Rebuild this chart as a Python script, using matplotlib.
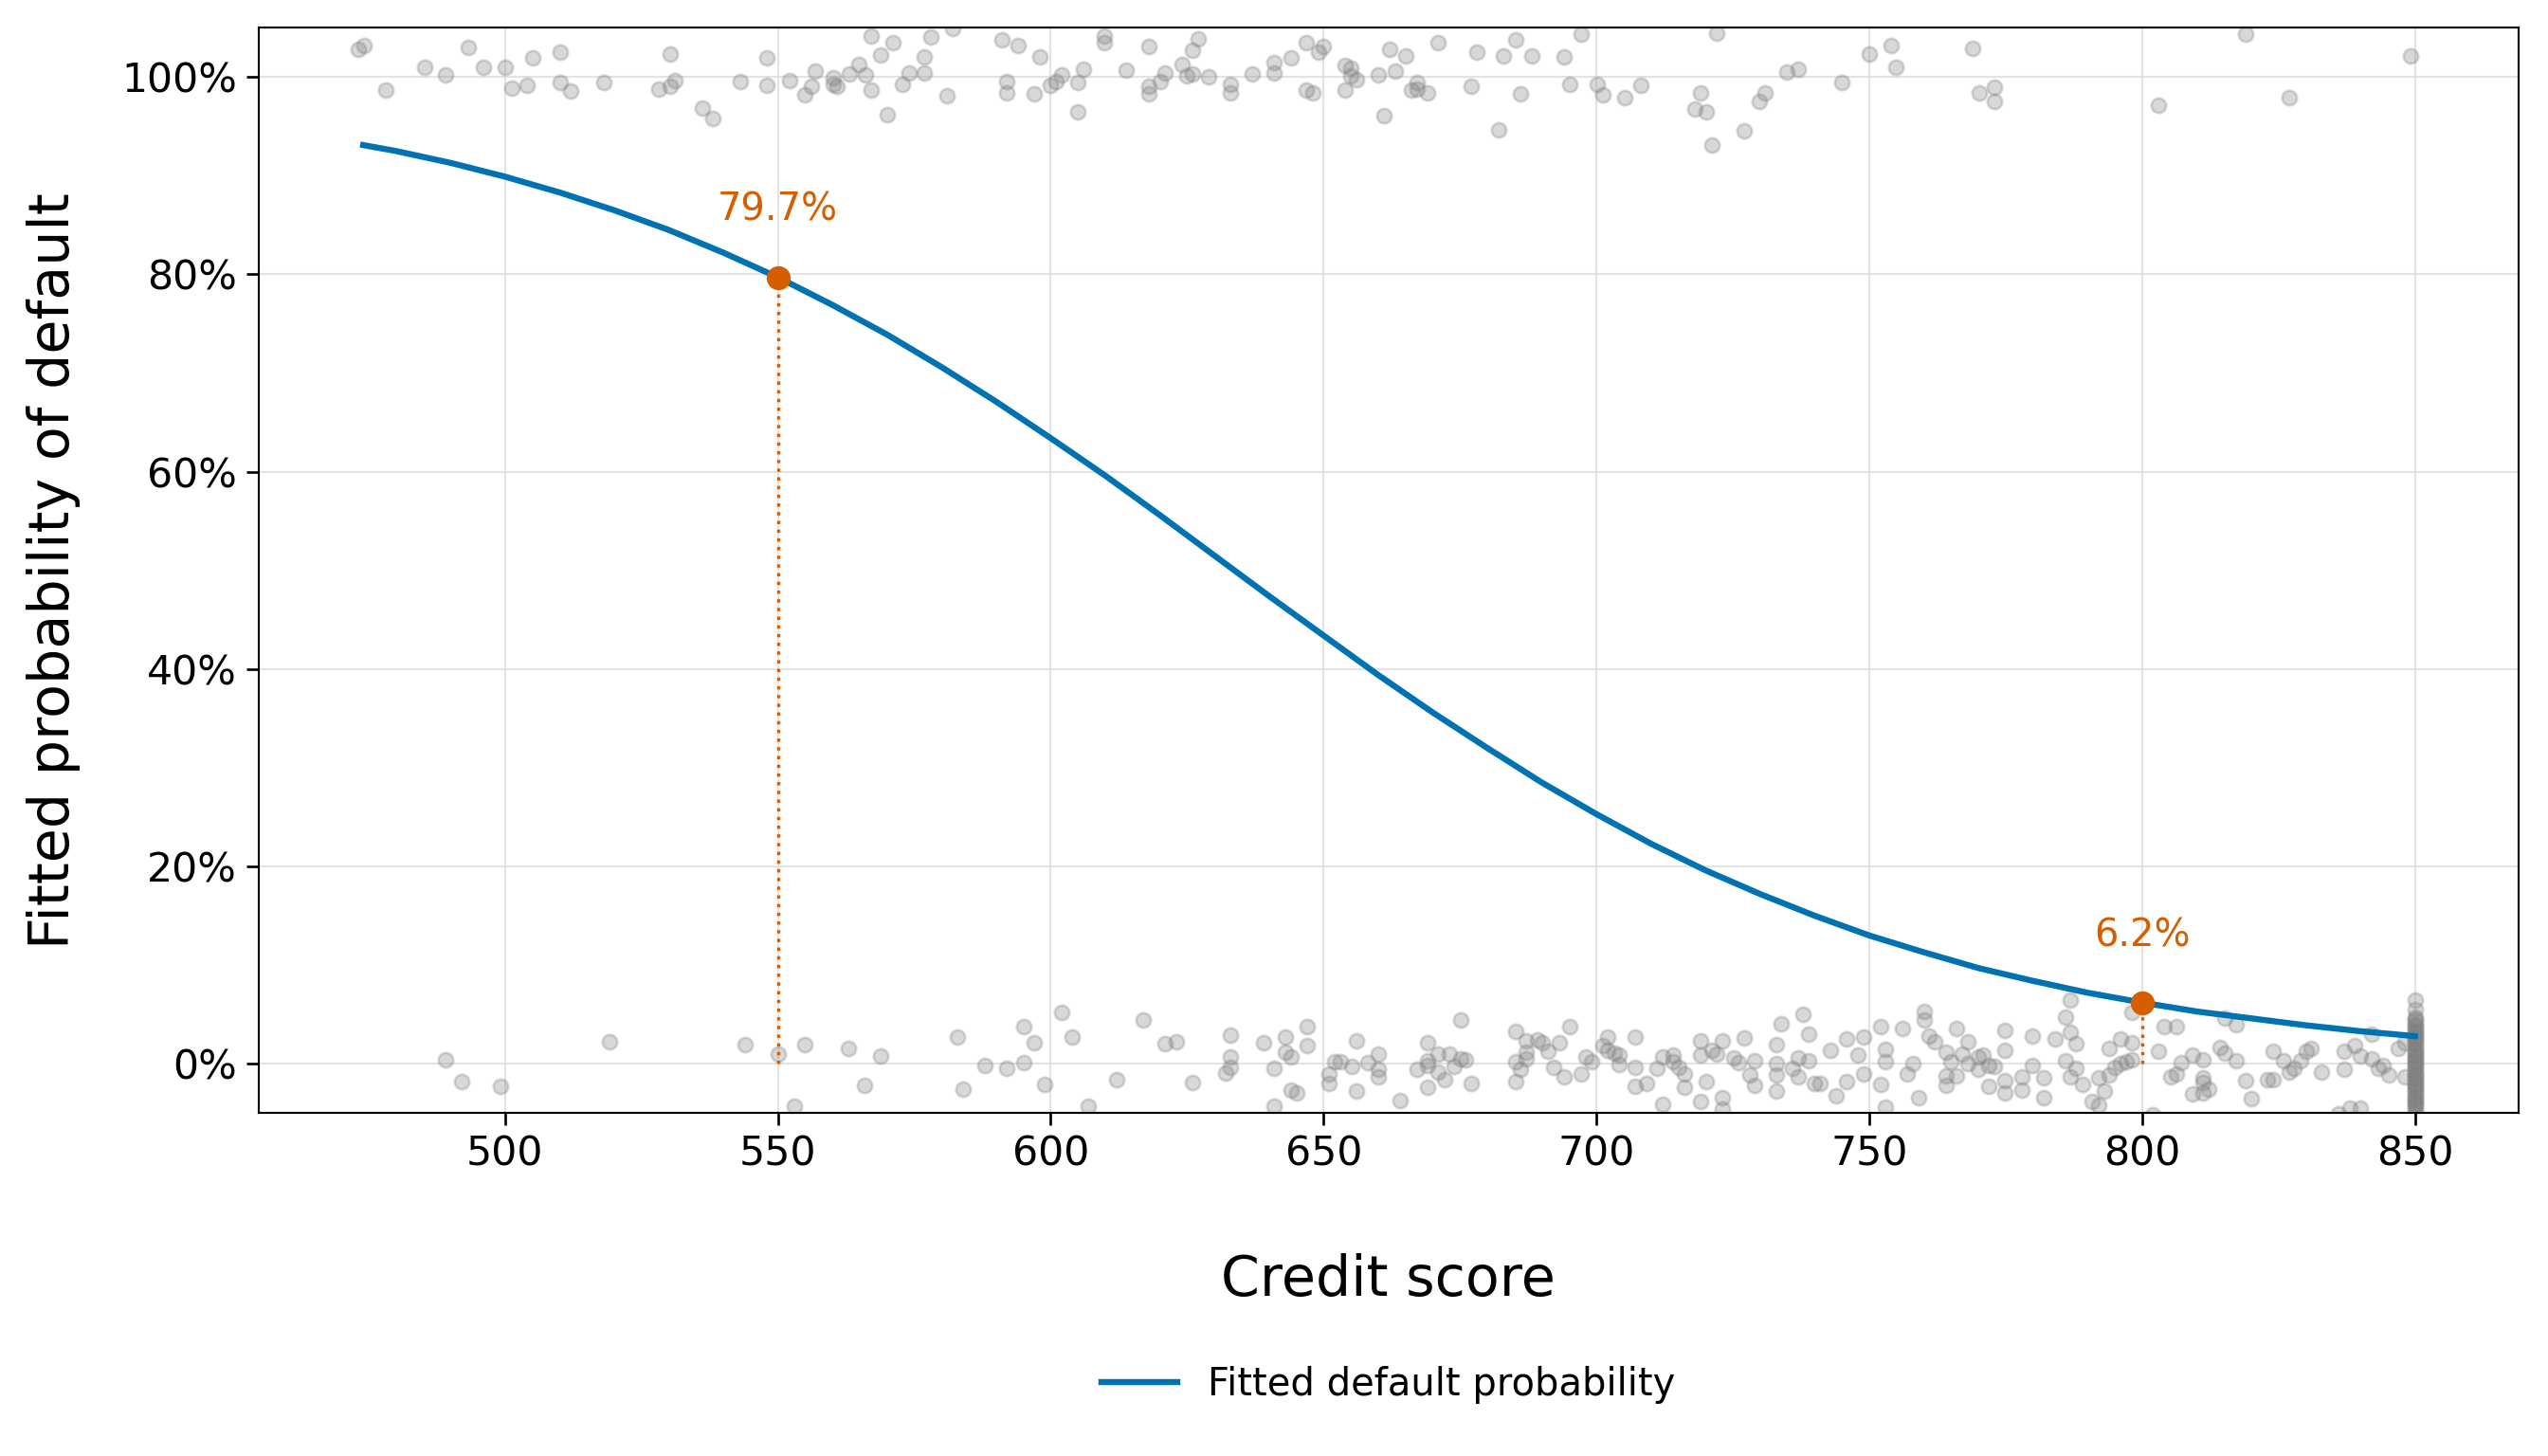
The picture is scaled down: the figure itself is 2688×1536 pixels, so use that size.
import matplotlib
matplotlib.use('Agg')
import matplotlib.pyplot as plt
from matplotlib.ticker import PercentFormatter

# Jittered outcomes: defaulted loans (near 100%)
default_scores = [473.2, 474.2, 478.2, 485.2, 489.1, 493.2, 496.1, 500.1, 501.2, 504.1,
                  505.1, 510.2, 510.2, 512.0, 518.1, 528.1, 530.2, 530.2, 531.2, 536.1,
                  538.1, 543.1, 548.0, 548.0, 552.1, 555.0, 556.1, 556.9, 560.2, 560.2,
                  560.8, 563.1, 564.9, 566.0, 567.1, 567.1, 568.9, 570.0, 571.1, 572.9,
                  574.0, 576.9, 576.9, 578.0, 580.9, 582.0, 591.0, 592.0, 592.0, 594.0,
                  596.9, 598.0, 600.0, 601.0, 602.0, 605.0, 605.0, 606.0, 609.9, 609.9,
                  613.9, 617.9, 617.9, 617.9, 620.0, 621.0, 624.0, 625.0, 626.0, 626.0,
                  627.0, 629.0, 632.9, 632.9, 636.9, 640.9, 640.9, 644.0, 646.9, 646.9,
                  648.0, 649.0, 650.0, 654.0, 654.0, 655.0, 655.0, 656.0, 660.0, 661.1,
                  662.1, 663.1, 665.1, 666.1, 667.1, 667.1, 669.1, 671.0, 677.1, 678.1,
                  682.0, 683.0, 685.2, 686.0, 688.1, 694.0, 695.1, 697.2, 700.2, 701.2,
                  705.2, 708.2, 718.1, 719.1, 720.1, 721.1, 722.1, 727.1, 729.8, 730.9,
                  734.9, 737.0, 745.0, 750.0, 754.0, 754.9, 769.0, 770.1, 773.0, 773.0,
                  803.0, 819.0, 826.9, 849.1]
default_jitter = [102.8, 103.2, 98.7, 101.0, 100.2, 103.0, 101.0, 101.0, 98.9, 99.2,
                  101.9, 102.5, 99.4, 98.6, 99.4, 98.8, 102.3, 99.1, 99.6, 96.9,
                  95.8, 99.5, 101.9, 99.2, 99.6, 98.2, 99.1, 100.6, 99.9, 99.3,
                  99.1, 100.3, 101.3, 100.2, 104.2, 98.7, 102.2, 96.2, 103.5, 99.3,
                  100.4, 102.0, 100.4, 104.1, 98.1, 104.9, 103.8, 99.5, 98.4, 103.2,
                  98.3, 102.0, 99.2, 99.5, 100.2, 99.4, 96.5, 100.8, 104.2, 103.5,
                  100.7, 103.1, 99.1, 98.3, 99.5, 100.4, 101.3, 100.1, 102.7, 100.3,
                  103.9, 100.0, 99.3, 98.4, 100.3, 101.5, 100.4, 101.9, 103.5, 98.7,
                  98.4, 102.5, 103.1, 101.2, 98.7, 100.9, 100.1, 99.7, 100.2, 96.1,
                  102.8, 100.6, 102.1, 98.7, 99.4, 98.8, 98.4, 103.5, 99.1, 102.5,
                  94.6, 102.1, 103.8, 98.3, 102.1, 102.0, 99.3, 104.3, 99.3, 98.2,
                  97.9, 99.2, 96.8, 98.4, 96.5, 93.1, 104.4, 94.5, 97.5, 98.4,
                  100.5, 100.8, 99.4, 102.3, 103.2, 101.0, 102.9, 98.4, 99.0, 97.5,
                  97.1, 104.3, 97.9, 102.1]

# Repaid loans (near 0%)
repaid_scores = [489.1, 492.0, 499.2, 519.1, 543.9, 550.0, 553.0, 555.0, 563.0, 565.9,
                 568.9, 582.9, 584.0, 588.0, 592.0, 595.0, 595.0, 596.9, 598.9, 602.0,
                 604.0, 606.9, 612.0, 616.9, 621.0, 623.0, 626.0, 632.0, 632.9, 632.9,
                 632.9, 639.0, 640.9, 640.9, 643.0, 643.0, 644.0, 644.0, 645.0, 647.0,
                 647.0, 651.0, 651.0, 652.0, 653.0, 655.1, 656.0, 656.0, 658.1, 660.1,
                 660.1, 660.1, 664.1, 667.1, 669.1, 669.1, 669.1, 669.1, 671.0, 671.0,
                 672.1, 673.1, 674.0, 675.1, 675.1, 676.0, 677.1, 685.2, 685.2, 685.2,
                 686.1, 687.1, 687.1, 687.1, 689.2, 690.1, 691.1, 692.2, 693.2, 694.1,
                 695.1, 697.2, 698.0, 699.1, 701.2, 702.0, 702.0, 703.2, 704.1, 704.1,
                 707.1, 707.1, 707.1, 709.1, 711.1, 712.1, 712.1, 714.0, 714.0, 715.1,
                 716.1, 716.1, 719.1, 719.1, 719.1, 720.2, 721.1, 722.1, 723.1, 723.1,
                 723.1, 725.1, 726.1, 727.1, 728.1, 729.0, 729.0,
                 732.9, 732.9, 732.9, 732.9, 733.9, 736.0, 737.0, 737.0, 737.9, 738.9,
                 738.9, 739.9, 740.9, 742.9, 744.0, 745.9, 745.9, 747.9, 748.9, 748.9,
                 752.0, 752.0, 753.0, 753.0, 753.0, 756.0, 757.0, 758.0, 759.0, 760.0,
                 760.0, 761.0, 762.0, 764.0, 764.0, 764.0, 765.0, 766.0, 766.0, 767.0,
                 768.0, 768.0, 770.0, 770.0, 770.9, 771.9, 771.9, 772.9, 774.9, 774.9,
                 774.9, 774.9, 778.0, 778.0, 779.9, 779.9, 782.0, 782.0, 784.0, 785.9,
                 785.9, 786.9, 786.9, 786.9, 787.9, 787.9, 789.0, 790.9, 792.0, 792.0,
                 793.0, 794.0, 794.0, 795.0, 796.0, 796.0, 797.1, 798.1, 798.1, 798.1,
                 802.0, 803.0, 804.1, 805.2, 806.2, 806.2, 807.2, 809.2, 809.2, 811.1,
                 811.1, 811.1, 811.1, 812.1, 814.2, 815.1, 815.1, 817.3, 817.3, 819.0,
                 820.0, 823.0, 824.0, 824.0, 825.9, 826.9, 827.9, 829.0, 830.0, 831.0,
                 832.9, 836.0, 837.0, 837.0, 838.0, 839.0, 840.0, 840.0, 842.1, 842.1,
                 843.2, 844.1, 845.2, 847.0, 848.1, 848.1]
repaid_jitter = [0.4, -1.8, -2.3, 2.2, 1.9, 1.0, -4.3, 1.9, 1.6, -2.2,
                 0.8, 2.7, -2.6, -0.2, -0.5, 3.8, 0.1, 2.1, -2.1, 5.2,
                 2.7, -4.3, -1.6, 4.4, 2.0, 2.2, -1.9, -0.9, 2.9, 0.7,
                 -0.4, 2.1, -0.5, -4.3, 2.7, 1.2, 0.7, -2.7, -3.0, 3.8,
                 1.8, -1.0, -2.0, 0.2, 0.2, -0.3, 2.3, -2.8, 0.1, 1.0,
                 -0.6, -1.3, -3.7, -0.6, 2.1, 0.3, -0.2, -2.4, 1.0, -0.8,
                 -1.6, 1.0, -0.3, 4.4, 0.5, 0.4, -2.0, 3.3, 0.2, -1.8,
                 -0.6, 2.3, 1.2, 0.5, 2.4, 2.1, 1.3, -0.4, 2.1, -1.3,
                 3.8, -1.0, 0.7, 0.2, 1.8, 2.7, 1.4, 1.1, 0.9, -0.1,
                 2.7, -0.4, -2.3, -2.0, -0.5, 0.7, -4.1, 0.9, 0.2, -0.4,
                 -1.0, -2.4, 2.3, 0.9, -3.8, -1.8, 1.4, 1.0, 2.3, -3.4,
                 -4.6, 0.6, 0.1, 2.6, -1.1, 0.3, -2.2,
                 1.9, 0.0, -1.1, -2.8, 4.1, -0.5, 0.6, -1.3, 5.0, 3.0,
                 0.3, -2.0, -2.0, 1.4, -3.2, 2.5, -1.8, 0.9, 2.7, -1.0,
                 3.8, -2.1, 1.5, 0.2, -4.4, 3.6, -1.0, 0.0, -3.4, 5.3,
                 4.4, 2.8, 2.2, 1.2, -1.2, -2.2, 0.2, 3.6, -1.2, 1.0,
                 2.2, 0.0, 0.7, -0.6, 0.9, -0.2, -2.3, -0.3, 3.4, 1.4,
                 -1.7, -3.0, -1.3, -2.7, 2.8, -0.2, -1.4, -3.4, 2.5, 4.7,
                 0.3, 6.5, 3.2, -1.3, 2.0, -0.5, -2.1, -3.8, -1.4, -4.2,
                 -2.8, 1.6, -1.1, -0.4, 2.5, 0.0, 0.2, 5.2, 2.1, 0.4,
                 -5.2, 1.3, 3.8, -1.3, 3.8, -1.0, 0.1, 0.9, -3.1, 0.4,
                 -1.4, -1.9, -3.0, -2.6, 1.7, 4.6, 1.1, 4.0, 0.3, -1.7,
                 -3.5, -1.6, 1.3, -1.6, 0.3, -0.8, -0.5, 0.3, 1.3, 1.6,
                 -0.8, -5.1, 1.3, -0.6, -4.5, 1.8, 0.8, -4.5, 3.0, 0.5,
                 -0.5, -0.2, -1.1, 1.6, -1.3, 2.1]

# Scores capped at 850 (stacked column)
capped_jitter = [6.5, 5.5, 4.7, 4.5, 4.3, 4.0, 3.9, 3.7, 3.4, 3.2, 3.1, 2.8, 2.6, 2.5,
                 2.2, 2.0, 1.9, 1.6, 1.4, 1.3, 1.0, 0.8, 0.7, 0.4, 0.2, 0.1, -0.2,
                 -0.4, -0.5, -0.8, -1.0, -1.1, -1.4, -1.6, -1.7, -2.0, -2.2, -2.3,
                 -2.6, -2.8, -2.9, -3.2, -3.4, -3.5, -3.8, -4.0, -4.1, -4.4, -4.7, -5.0]

# Fitted curve
curve_scores = [474, 480, 490, 500, 510, 520, 530, 540, 550, 560, 570, 580, 590, 600,
                610, 620, 630, 640, 650, 660, 670, 680, 690, 700, 710, 720, 730, 740,
                750, 760, 770, 780, 790, 800, 810, 820, 830, 840, 850]
curve_prob = [0.931, 0.925, 0.913, 0.899, 0.883, 0.865, 0.845, 0.822, 0.797, 0.769,
              0.739, 0.706, 0.671, 0.634, 0.596, 0.556, 0.515, 0.474, 0.434, 0.394,
              0.356, 0.320, 0.285, 0.253, 0.223, 0.196, 0.172, 0.150, 0.130, 0.113,
              0.097, 0.084, 0.072, 0.062, 0.053, 0.046, 0.039, 0.033, 0.028]

marked_scores = [550, 800]
marked_prob = [0.797, 0.062]
marked_labels = ['79.7%', '6.2%']

blue = '#0072B2'
orange = '#D55E00'

fig = plt.figure(figsize=(14, 8), dpi=192)
ax = fig.add_axes([0.1014, 0.2355, 0.8871, 0.7455])

# Scatter of jittered outcomes
dot_style = dict(s=34, color='gray', edgecolors='gray', linewidths=1, alpha=0.3, zorder=2)
ax.scatter(default_scores, [v / 100 for v in default_jitter], **dot_style)
ax.scatter(repaid_scores, [v / 100 for v in repaid_jitter], **dot_style)
ax.scatter([850] * len(capped_jitter), [v / 100 for v in capped_jitter], **dot_style)

# Fitted curve
ax.plot(curve_scores, curve_prob, color=blue, linewidth=2.4, zorder=3,
        label='Fitted default probability')

# Marked points with dotted drop lines
for sc, pr, lab in zip(marked_scores, marked_prob, marked_labels):
    ax.plot([sc, sc], [0, pr], color=orange, linestyle=':', linewidth=1.3, zorder=3)
    ax.plot(sc, pr, 'o', color=orange, markersize=8.5, zorder=4)
    ax.annotate(lab, (sc, pr), xytext=(0, 19), textcoords='offset points',
                ha='center', va='bottom', color=orange, fontsize=15)

ax.set_xlim(454.8, 869)
ax.set_ylim(-0.05, 1.05)
ax.set_xticks([500, 550, 600, 650, 700, 750, 800, 850])
ax.set_yticks([0, 0.2, 0.4, 0.6, 0.8, 1.0])
ax.yaxis.set_major_formatter(PercentFormatter(xmax=1, decimals=0))
ax.tick_params(labelsize=16, length=5, width=1)
ax.grid(True, color='#dddddd', linewidth=0.8, alpha=0.8, zorder=0)
ax.set_axisbelow(True)

ax.set_xlabel('Credit score', fontsize=22, labelpad=31)
ax.set_ylabel('Fitted probability of default', fontsize=22, labelpad=16)

ax.legend(loc='center', bbox_to_anchor=(0.5, -0.25), frameon=False, fontsize=15)

fig.savefig('out.png', dpi=192)
